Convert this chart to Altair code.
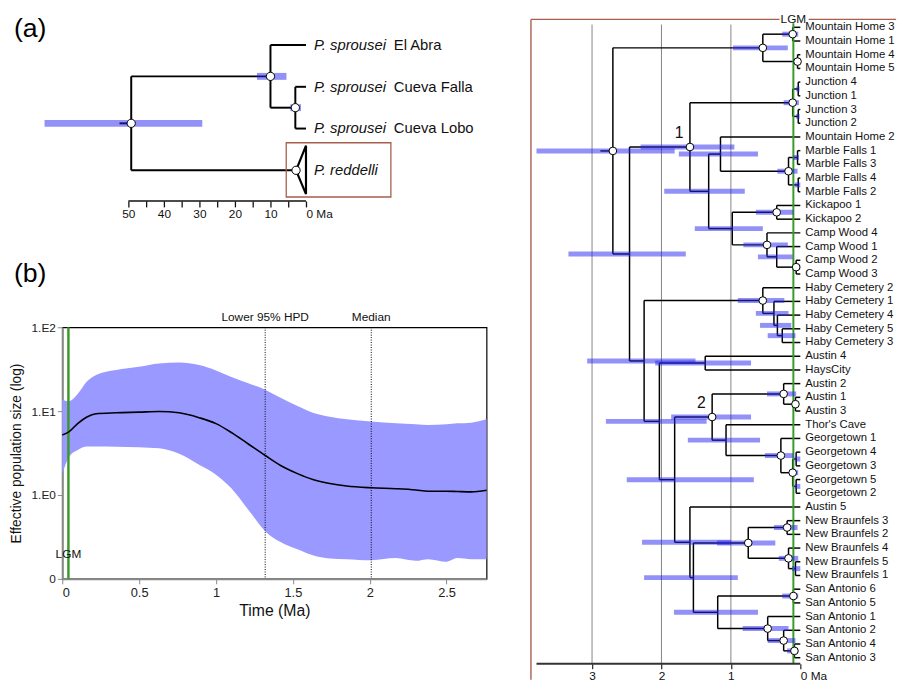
import altair as alt
import pandas as pd

FONT = "Liberation Sans"
BLUE = "#2323f0"
BROWN = "#a85e4c"
GREEN = "#3a9a28"

# ---------------- panel (a): species tree ----------------
a_tip_names = ["El Abra", "Cueva Falla", "Cueva Lobo", "P. reddelli"]
a_tip_italic = ["P. sprousei", "P. sprousei", "P. sprousei", "P. reddelli"]
a_tip_plain = ["El Abra", "Cueva Falla", "Cueva Lobo", ""]
a_tip_rows = [0, 1, 2, 3]
a_tip_ages = [0.0, 0.0, 0.0, 2.8]          # reddelli collapsed at its crown
a_node_names = ["root", "spr", "fl"]
a_node_child1 = ["spr", "El Abra", "Cueva Falla"]
a_node_child2 = ["P. reddelli", "fl", "Cueva Lobo"]
a_node_ages = [49.2, 10.0, 3.0]
a_hpd_old = [73.6, 13.8, 4.4]
a_hpd_young = [29.2, 5.5, 1.4]
a_root_stem = 52.5
a_crown_age = 2.8
a_crown_hpd = [3.3, 1.7]
a_tri_ages = [2.8, 0.0, 0.0, 2.8]
a_tri_rows = [3.0, 2.41, 3.57, 3.0]
a_box_ages = [5.56, -23.9]
a_box_rows = [2.34, 3.64]
a_axis_ticks = [0, 5, 10, 15, 20, 25, 30, 35, 40, 45, 50]
a_axis_span = [50, 0]

# ---------------- panel (b): skyline ----------------
b_time = [0, 0.043, 0.10, 0.16, 0.22, 0.35, 0.50, 0.63, 0.76, 0.89, 1.00, 1.10, 1.21,
          1.32, 1.42, 1.53, 1.63, 1.74, 1.85, 2.01, 2.17, 2.30, 2.38, 2.50, 2.57, 2.66, 2.76]
b_upper = [13.7, 13.1, 16.0, 22.5, 27.0, 30.9, 33.9, 37.1, 38.0, 35.4, 30.5, 25.5, 21.5,
           18.0, 14.4, 11.5, 9.55, 8.57, 8.0, 7.5, 7.16, 7.0, 6.84, 7.0, 7.16, 7.29, 7.98]
b_lower = [1.80, 2.82, 3.45, 3.80, 3.80, 3.77, 3.71, 3.60, 3.10, 2.30, 1.75, 1.20, 0.667,
           0.371, 0.275, 0.225, 0.191, 0.175, 0.172, 0.167, 0.177, 0.164, 0.172, 0.160, 0.177, 0.172, 0.172]
b_median = [5.18, 5.66, 7.1, 8.5, 9.3, 9.55, 9.73, 9.91, 9.55, 8.36, 7.1, 5.56, 4.06,
            2.96, 2.25, 1.80, 1.53, 1.37, 1.28, 1.22, 1.19, 1.15, 1.11, 1.11, 1.10, 1.09, 1.14]
b_marker_x = [1.32, 2.01]
b_marker_text = ["Lower 95% HPD", "Median"]
b_lgm = 0.04
b_xticks = [0, 0.5, 1, 1.5, 2, 2.5]
b_yticks = [0.1, 1, 10, 100]

# ---------------- right: population tree ----------------
t_tips = ["Mountain Home 3", "Mountain Home 1", "Mountain Home 4", "Mountain Home 5",
          "Junction 4", "Junction 1", "Junction 3", "Junction 2", "Mountain Home 2",
          "Marble Falls 1", "Marble Falls 3", "Marble Falls 4", "Marble Falls 2",
          "Kickapoo 1", "Kickapoo 2", "Camp Wood 4", "Camp Wood 1", "Camp Wood 2", "Camp Wood 3",
          "Haby Cemetery 2", "Haby Cemetery 1", "Haby Cemetery 4", "Haby Cemetery 5", "Haby Cemetery 3",
          "Austin 4", "HaysCity", "Austin 2", "Austin 1", "Austin 3", "Thor's Cave",
          "Georgetown 1", "Georgetown 4", "Georgetown 3", "Georgetown 5", "Georgetown 2",
          "Austin 5", "New Braunfels 3", "New Braunfels 2", "New Braunfels 4", "New Braunfels 5",
          "New Braunfels 1", "San Antonio 6", "San Antonio 5", "San Antonio 1", "San Antonio 2",
          "San Antonio 4", "San Antonio 3"]
t_nodes = ["A", "MH", "MH31", "MH45", "B", "N1", "J", "J41", "J32", "D", "E", "MF", "MF13", "MF42",
           "F", "K", "CW", "CW1", "CW23", "C", "H1", "H2", "H3", "H4", "G", "AH", "H", "N2", "AU",
           "AU13", "Jn", "GT", "GG", "GT43", "GT52", "I", "K2", "NB", "NB32", "NB451", "NB51",
           "L", "SA65", "SA", "SA2", "SA43"]
t_child1 = ["MH", "MH31", "Mountain Home 3", "Mountain Home 4", "N1", "J", "J41", "Junction 4",
            "Junction 3", "E", "Mountain Home 2", "MF13", "Marble Falls 1", "Marble Falls 4",
            "K", "Kickapoo 1", "Camp Wood 4", "Camp Wood 1", "Camp Wood 2", "H1", "Haby Cemetery 2",
            "Haby Cemetery 1", "Haby Cemetery 4", "Haby Cemetery 5", "AH", "Austin 4", "N2", "AU",
            "Austin 2", "Austin 1", "Thor's Cave", "Georgetown 1", "GT43", "Georgetown 4",
            "Georgetown 5", "Austin 5", "NB", "NB32", "New Braunfels 3", "New Braunfels 4",
            "New Braunfels 5", "SA65", "San Antonio 6", "San Antonio 1", "San Antonio 2", "San Antonio 4"]
t_child2 = ["B", "MH45", "Mountain Home 1", "Mountain Home 5", "C", "D", "J32", "Junction 1",
            "Junction 2", "F", "MF", "MF42", "Marble Falls 3", "Marble Falls 2",
            "CW", "Kickapoo 2", "CW1", "CW23", "Camp Wood 3", "G", "H2",
            "H3", "H4", "Haby Cemetery 3", "H", "HaysCity", "I", "Jn",
            "AU13", "Austin 3", "GT", "GG", "GT52", "Georgetown 3",
            "Georgetown 2", "K2", "L", "NB451", "New Braunfels 2", "NB51",
            "New Braunfels 1", "SA", "San Antonio 5", "SA2", "SA43", "San Antonio 3"]
t_ages = [2.70, 0.54, 0.11, 0.04, 2.46, 1.59, 0.11, 0.03, 0.03, 1.32, 1.15, 0.17, 0.04, 0.03,
          0.98, 0.34, 0.48, 0.34, 0.06, 2.25, 0.54, 0.38, 0.33, 0.26, 2.03, 1.37, 1.81, 1.27, 0.24,
          0.07, 1.07, 0.28, 0.11, 0.06, 0.06, 1.59, 1.54, 0.75, 0.19, 0.17, 0.07,
          1.19, 0.10, 0.47, 0.24, 0.085]
t_hpd_old = [3.80, 0.97, 0.26, 0.10, 3.34, 2.30, 0.24, 0.06, 0.06, 1.96, 1.75, 0.33, 0.10, 0.08,
             1.52, 0.64, 0.82, 0.61, 0.10, 3.07, 0.90, 0.64, 0.58, 0.47, 2.80, 2.09, 2.50, 1.86, 0.48,
             0.12, 1.62, 0.51, 0.15, 0.08, 0.08, 2.28, 2.25, 1.20, 0.38, 0.31, 0.12,
             1.82, 0.26, 0.83, 0.47, 0.19]
t_hpd_young = [1.81, 0.18, 0.03, 0.02, 1.65, 0.95, 0.02, 0.01, 0.01, 0.80, 0.61, 0.04, 0.02, 0.0,
               0.54, 0.10, 0.18, 0.11, 0.0, 1.51, 0.23, 0.17, 0.13, 0.07, 1.35, 0.71, 0.67, 0.71, 0.06,
               0.02, 0.58, 0.10, 0.03, 0.0, 0.0, 1.00, 0.90, 0.36, 0.04, 0.03, 0.0,
               0.61, 0.03, 0.17, 0.07, 0.03]
t_circle = ["A", "MH", "MH31", "MH45", "N1", "J", "MF", "K", "CW", "CW23", "H1", "N2", "AU", "AU13",
            "GT", "GG", "NB", "NB32", "NB451", "SA65", "SA", "SA2", "SA43"]
t_root_stem = 2.88
t_node_labels = ["N1", "N2"]
t_node_label_text = ["1", "2"]
t_grid = [3, 2, 1]
t_axis_ticks = [3, 2, 1, 0]
t_axis_span = [3.80, 0]
t_lgm = 0.10
t_border_left = 3.88
t_border_gap = [0.30, -0.12]
t_border_right = -1.38


def tree_layout(tip_names, tip_rows, tip_ages, node_names, c1, c2, node_ages):
    ypos = dict(zip(tip_names, tip_rows))
    age = dict(zip(tip_names, tip_ages))
    age.update(zip(node_names, node_ages))
    kids = {n: (a, b) for n, a, b in zip(node_names, c1, c2)}

    def gy(n):
        if n not in ypos:
            a, b = kids[n]
            ypos[n] = (gy(a) + gy(b)) / 2.0
        return ypos[n]

    for n in node_names:
        gy(n)
    segs = []
    for n in node_names:
        a, b = kids[n]
        segs.append(dict(x=age[n], x2=age[n], y=ypos[a], y2=ypos[b]))
        for ch in (a, b):
            segs.append(dict(x=age[n], x2=age[ch], y=ypos[ch], y2=ypos[ch]))
    return ypos, age, segs


# ======================= panel (a) =======================
a_y, a_age, a_segs = tree_layout(a_tip_names, a_tip_rows, a_tip_ages, a_node_names,
                                 a_node_child1, a_node_child2, a_node_ages)
a_segs.append(dict(x=a_root_stem, x2=a_age["root"], y=a_y["root"], y2=a_y["root"]))
a_seg_df = pd.DataFrame(a_segs)
a_hpd_df = pd.DataFrame(dict(old=a_hpd_old + [a_crown_hpd[0]], young=a_hpd_young + [a_crown_hpd[1]],
                             y=[a_y[n] for n in a_node_names] + [a_y["P. reddelli"]]))
a_circ_df = pd.DataFrame(dict(x=a_node_ages + [a_crown_age],
                              y=[a_y[n] for n in a_node_names] + [a_y["P. reddelli"]]))
a_tri_df = pd.DataFrame(dict(x=a_tri_ages, y=a_tri_rows, o=list(range(len(a_tri_ages)))))
a_box_df = pd.DataFrame(dict(x=[a_box_ages[0]], x2=[a_box_ages[1]], y=[a_box_rows[0]], y2=[a_box_rows[1]]))
a_lab_df = pd.DataFrame(dict(x=[0.0] * 4, y=a_tip_rows, it=a_tip_italic, pl=a_tip_plain))
A_TOP, A_BOT = -0.638, 3.735
a_ax_df = pd.DataFrame(dict(x=[a_axis_span[0]], x2=[a_axis_span[1]], y=[A_BOT]))

axs = alt.Scale(domain=[-50.83, 68.61], reverse=True, nice=False, zero=False)
ays = alt.Scale(domain=[A_TOP, A_BOT], reverse=True, nice=False, zero=False)
axa = alt.Axis(values=a_axis_ticks, domain=False, grid=False, title=None, tickSize=6,
               tickColor="#111", tickWidth=1.3, labelFontSize=12, labelColor="#111", labelPadding=2,
               labelExpr="datum.value == 0 ? '0 Ma' : (datum.value % 10 == 0 ? '' + datum.value : '')",
               labelAlign={"condition": {"test": "datum.value == 0", "value": "left"}, "value": "center"})


def AX(f):
    return alt.X(f, type="quantitative", scale=axs, axis=axa)


def AY(f):
    return alt.Y(f, type="quantitative", scale=ays, axis=None)


pa_layers = [
    alt.Chart(a_seg_df).mark_rule(color="black", strokeWidth=2).encode(
        x=AX("x"), x2="x2", y=AY("y"), y2="y2"),
    alt.Chart(a_tri_df).mark_line(color="black", strokeWidth=2.2).encode(
        x=AX("x"), y=AY("y"), order="o"),
    alt.Chart(a_hpd_df).mark_rule(color=BLUE, opacity=0.5, strokeWidth=7, strokeCap="butt").encode(
        x=AX("old"), x2="young", y=AY("y")),
    alt.Chart(a_box_df).mark_rect(fill="transparent", stroke=BROWN, strokeWidth=1.3).encode(
        x=AX("x"), x2="x2", y=AY("y"), y2="y2"),
    alt.Chart(a_circ_df).mark_point(shape="circle", filled=True, fill="white", stroke="black",
                                    strokeWidth=1, size=70, opacity=1).encode(x=AX("x"), y=AY("y")),
    alt.Chart(a_lab_df).mark_text(align="left", baseline="middle", dx=8, fontSize=15,
                                  fontStyle="italic", color="#111").encode(x=AX("x"), y=AY("y"), text="it"),
    alt.Chart(a_lab_df).mark_text(align="left", baseline="middle", dx=89, fontSize=15,
                                  color="#111").encode(x=AX("x"), y=AY("y"), text="pl"),
    alt.Chart(a_ax_df).mark_rule(color="#111", strokeWidth=1.5).encode(
        x=AX("x"), x2="x2", y=AY("y")),
]
pa = alt.layer(*pa_layers).properties(
    width=430, height=185,
    title=alt.TitleParams("(a)", anchor="start", frame="group", fontSize=27, fontWeight="normal",
                          dx=-49, dy=38, offset=0, baseline="middle"))

# ======================= panel (b) =======================
b_df = pd.DataFrame(dict(t=b_time, lo=b_lower, hi=b_upper, med=b_median))
b_mark_df = pd.DataFrame(dict(x=b_marker_x, label=b_marker_text))
b_lgm_df = pd.DataFrame(dict(x=[b_lgm], label=["LGM"]))

bxs = alt.Scale(domain=[0, 2.76], nice=False, zero=False)
bys = alt.Scale(type="log", domain=[0.1, 100], nice=False)
bxa = alt.Axis(values=b_xticks, format="~g", title="Time (Ma)", titleFontSize=16, titleFontWeight="normal",
               titleColor="#111", labelFontSize=13, labelColor="#222", tickSize=5, tickColor="#888",
               domainColor="#888", domainWidth=2, grid=False, titlePadding=3, labelPadding=3)
bya = alt.Axis(values=b_yticks, title="Effective population size (log)", titleFontSize=14,
               titleFontWeight="normal", titleColor="#111", labelFontSize=12, labelColor="#222",
               tickSize=5, tickColor="#888", domainColor="#888", domainWidth=2, grid=False,
               titlePadding=8,
               labelExpr="datum.value >= 50 ? '1.E2' : datum.value >= 5 ? '1.E1' : datum.value >= 0.5 ? '1.E0' : '0'")


def BX(f):
    return alt.X(f, type="quantitative", scale=bxs, axis=bxa)


def BY(f):
    return alt.Y(f, type="quantitative", scale=bys, axis=bya)


pb_layers = [
    alt.Chart(b_df).mark_area(color="#9999ff", interpolate="monotone").encode(
        x=BX("t"), y=BY("lo"), y2="hi"),
    alt.Chart(b_mark_df).mark_rule(color="black", strokeWidth=1, strokeDash=[1, 1.5]).encode(x=BX("x")),
    alt.Chart(b_lgm_df).mark_rule(color=GREEN, strokeWidth=2.5).encode(x=BX("x")),
    alt.Chart(b_df).mark_line(color="black", strokeWidth=1.6, interpolate="monotone").encode(
        x=BX("t"), y=BY("med")),
    alt.Chart(b_mark_df).mark_text(baseline="bottom", fontSize=12, color="#111").encode(
        x=BX("x"), y=alt.value(-3), text="label"),
    alt.Chart(b_lgm_df).mark_text(baseline="middle", fontSize=12, color="#111").encode(
        x=BX("x"), y=alt.value(230), text="label"),
]
pb = alt.layer(*pb_layers).properties(
    width=430, height=255, view=alt.ViewBackground(stroke="black", strokeWidth=1.2),
    title=alt.TitleParams("(b)", anchor="start", frame="group", fontSize=27, fontWeight="normal",
                          dx=-49, dy=-11, offset=0, baseline="middle"))

# ======================= right tree =======================
t_y, t_age, t_segs = tree_layout(t_tips, list(range(len(t_tips))), [0.0] * len(t_tips),
                                 t_nodes, t_child1, t_child2, t_ages)
t_segs.append(dict(x=t_root_stem, x2=t_age["A"], y=t_y["A"], y2=t_y["A"]))
t_seg_df = pd.DataFrame(t_segs)
t_hpd_df = pd.DataFrame(dict(old=t_hpd_old, young=t_hpd_young, y=[t_y[n] for n in t_nodes]))
t_circ_df = pd.DataFrame(dict(x=[t_age[n] for n in t_circle], y=[t_y[n] for n in t_circle]))
t_tip_df = pd.DataFrame(dict(x=[0.0] * len(t_tips), y=list(range(len(t_tips))), name=t_tips))
t_nl_df = pd.DataFrame(dict(x=[t_age[n] for n in t_node_labels], y=[t_y[n] for n in t_node_labels],
                            label=t_node_label_text))
T_TOP, T_BORDER, T_BOT = -0.648, -0.576, 46.44
t_grid_df = pd.DataFrame(dict(x=t_grid, y=[-0.2] * 3, y2=[T_BOT] * 3))
t_border_df = pd.DataFrame(dict(
    x=[t_border_left, t_border_left, t_border_gap[1]],
    x2=[t_border_left, t_border_gap[0], t_border_right],
    y=[T_BORDER, T_BORDER, T_BORDER], y2=[47.6, T_BORDER, T_BORDER]))
t_lgm_df = pd.DataFrame(dict(x=[t_lgm], y=[-0.3], y2=[T_BOT], ly=[T_BORDER], label=["LGM"]))
t_ax_df = pd.DataFrame(dict(x=[t_axis_span[0]], x2=[t_axis_span[1]], y=[T_BOT]))

txs = alt.Scale(domain=[0, 3.88], reverse=True, nice=False, zero=False)
tys = alt.Scale(domain=[T_TOP, T_BOT], reverse=True, nice=False, zero=False)
txa = alt.Axis(values=t_axis_ticks, domain=False, grid=False, title=None, tickSize=5,
               tickColor="#333", tickWidth=1.3, labelFontSize=12, labelColor="#111", labelPadding=2,
               labelExpr="datum.value == 0 ? '0 Ma' : '' + datum.value",
               labelAlign={"condition": {"test": "datum.value == 0", "value": "left"}, "value": "center"})


def TX(f):
    return alt.X(f, type="quantitative", scale=txs, axis=txa)


def TY(f):
    return alt.Y(f, type="quantitative", scale=tys, axis=None)


tree_layers = [
    alt.Chart(t_grid_df).mark_rule(color="#777", strokeWidth=0.9).encode(x=TX("x"), y=TY("y"), y2="y2"),
    alt.Chart(t_border_df).mark_rule(color=BROWN, strokeWidth=1.4).encode(
        x=TX("x"), x2="x2", y=TY("y"), y2="y2"),
    alt.Chart(t_seg_df).mark_rule(color="black", strokeWidth=1.5).encode(
        x=TX("x"), x2="x2", y=TY("y"), y2="y2"),
    alt.Chart(t_lgm_df).mark_rule(color=GREEN, strokeWidth=2).encode(x=TX("x"), y=TY("y"), y2="y2"),
    alt.Chart(t_hpd_df).mark_rule(color=BLUE, opacity=0.5, strokeWidth=5, strokeCap="butt").encode(
        x=TX("old"), x2="young", y=TY("y")),
    alt.Chart(t_circ_df).mark_point(shape="circle", filled=True, fill="white", stroke="black",
                                    strokeWidth=1, size=60, opacity=1).encode(x=TX("x"), y=TY("y")),
    alt.Chart(t_tip_df).mark_text(align="left", baseline="middle", dx=5, fontSize=11.5,
                                  color="#111").encode(x=TX("x"), y=TY("y"), text="name"),
    alt.Chart(t_nl_df).mark_text(align="center", baseline="middle", dx=-11, dy=-14, fontSize=16,
                                 color="#111").encode(x=TX("x"), y=TY("y"), text="label"),
    alt.Chart(t_lgm_df).mark_text(align="center", baseline="middle", fontSize=12, color="#111").encode(
        x=TX("x"), y=TY("ly"), text="label"),
    alt.Chart(t_ax_df).mark_rule(color="#333", strokeWidth=2).encode(x=TX("x"), x2="x2", y=TY("y")),
]
tree = alt.layer(*tree_layers).properties(width=273, height=654)

left = alt.vconcat(pa, pb, spacing=128, bounds="flush")
chart = alt.hconcat(left, tree, spacing=39, bounds="full").properties(
    padding={"left": 0, "right": 0, "top": 0, "bottom": 0}
).configure(font=FONT).configure_view(stroke="transparent")

chart.save("out.html", embed_options={"renderer": "svg", "actions": False})
